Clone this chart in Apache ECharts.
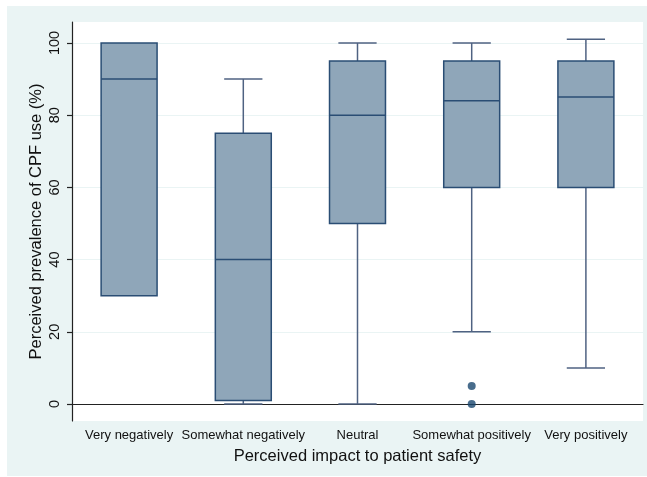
<!DOCTYPE html>
<html>
<head>
<meta charset="utf-8">
<script src="https://cdn.jsdelivr.net/npm/echarts@6/dist/echarts.min.js"></script>
<style>html,body{margin:0;padding:0;background:#fff;}#c{width:647px;height:477px;}</style>
</head>
<body>
<div id="c"></div>
<script>
var categories = ['Very negatively', 'Somewhat negatively', 'Neutral', 'Somewhat positively', 'Very positively'];
var lowerWhisker = [30, 0, 0, 20, 10];
var q1 = [30, 1, 50, 60, 60];
var median = [90, 40, 80, 84, 85];
var q3 = [100, 75, 95, 95, 95];
var upperWhisker = [100, 90, 100, 100, 101];
var outliers = [[3, 5], [3, 0]];
var yTicks = [0, 20, 40, 60, 80, 100];

var boxData = categories.map(function (c, i) {
  return [i, lowerWhisker[i], q1[i], median[i], q3[i], upperWhisker[i]];
});

var chart = echarts.init(document.getElementById('c'), null, {renderer: 'canvas'});
var boxFill = '#8fa6b9', boxStroke = '#2a4d74', whiskerColor = '#4f6282';

function renderBox(params, api) {
  var x = api.value(0);
  var band = api.size([1, 0])[0];
  var bw = band * 0.49, cw = band * 0.335;
  var pLo = api.coord([x, api.value(1)]);
  var pQ1 = api.coord([x, api.value(2)]);
  var pMed = api.coord([x, api.value(3)]);
  var pQ3 = api.coord([x, api.value(4)]);
  var pHi = api.coord([x, api.value(5)]);
  var cx = pQ1[0];
  var children = [];
  var wStyle = {stroke: whiskerColor, lineWidth: 1.5};
  if (api.value(5) > api.value(4)) {
    children.push({type: 'line', shape: {x1: cx, y1: pQ3[1], x2: cx, y2: pHi[1]}, style: wStyle});
    children.push({type: 'line', shape: {x1: cx - cw / 2, y1: pHi[1], x2: cx + cw / 2, y2: pHi[1]}, style: wStyle});
  }
  if (api.value(1) < api.value(2)) {
    children.push({type: 'line', shape: {x1: cx, y1: pQ1[1], x2: cx, y2: pLo[1]}, style: wStyle});
    children.push({type: 'line', shape: {x1: cx - cw / 2, y1: pLo[1], x2: cx + cw / 2, y2: pLo[1]}, style: wStyle});
  }
  children.push({type: 'rect', shape: {x: cx - bw / 2, y: pQ3[1], width: bw, height: pQ1[1] - pQ3[1]},
    style: {fill: boxFill, stroke: boxStroke, lineWidth: 1.5}});
  children.push({type: 'line', shape: {x1: cx - bw / 2, y1: pMed[1], x2: cx + bw / 2, y2: pMed[1]},
    style: {stroke: boxStroke, lineWidth: 1.5}});
  return {type: 'group', children: children};
}

chart.setOption({
  animation: false,
  backgroundColor: '#ffffff',
  graphic: [{
    type: 'rect', z: -10, silent: true,
    shape: {x: 7, y: 6, width: 640, height: 470},
    style: {fill: '#eaf4f4'}
  }],
  grid: {left: 72, right: 4, top: 22, bottom: 56, show: true, backgroundColor: '#ffffff', borderWidth: 0},
  xAxis: {
    type: 'category',
    data: categories,
    boundaryGap: true,
    axisLine: {lineStyle: {color: '#222', width: 1.2}},
    axisTick: {show: false},
    axisLabel: {color: '#111', fontFamily: 'Liberation Sans', fontSize: 13, margin: 8, interval: 0},
    splitLine: {show: false},
    name: 'Perceived impact to patient safety',
    nameLocation: 'middle',
    nameGap: 27,
    nameMoveOverlap: false,
    nameTextStyle: {color: '#111', fontFamily: 'Liberation Sans', fontSize: 16.5}
  },
  yAxis: {
    type: 'value',
    min: -4.7,
    max: 105.8,
    axisLine: {show: true, lineStyle: {color: '#222', width: 1.2}},
    axisTick: {show: true, length: 5, customValues: yTicks, lineStyle: {color: '#222', width: 1.2}},
    axisLabel: {customValues: yTicks, rotate: 90, color: '#111', fontFamily: 'Liberation Sans', fontSize: 14.5, margin: 10},
    splitLine: {show: true, lineStyle: {color: '#eaf4f4', width: 1}},
    name: 'Perceived prevalence of CPF use (%)',
    nameLocation: 'middle',
    nameRotate: 90,
    nameGap: 27,
    nameMoveOverlap: false,
    nameTextStyle: {color: '#111', fontFamily: 'Liberation Sans', fontSize: 16.5}
  },
  series: [{
    type: 'custom',
    renderItem: renderBox,
    encode: {x: 0, y: [1, 2, 3, 4, 5]},
    data: boxData,
    z: 3
  }, {
    type: 'scatter',
    data: outliers,
    symbol: 'circle',
    symbolSize: 8,
    itemStyle: {color: '#1a476f'},
    z: 4
  }]
});
</script>
</body>
</html>
